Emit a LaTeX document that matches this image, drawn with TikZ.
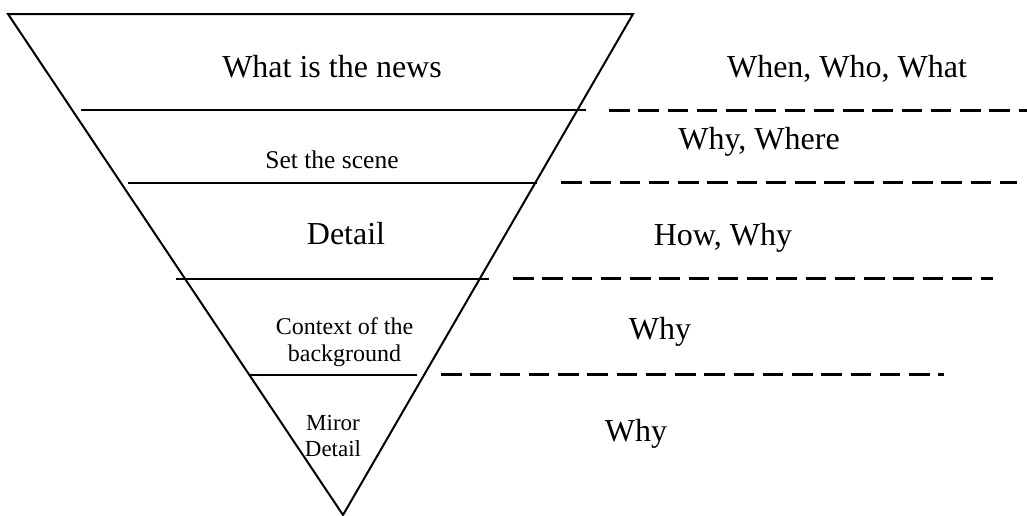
\documentclass[tikz,border=0pt]{standalone}
\usepackage{fontspec}
\setmainfont{Liberation Serif}
\begin{document}
\begin{tikzpicture}[x=1pt,y=-1pt,
  solidline/.style={line width=2pt},
  dashline/.style={line width=3pt, dash pattern=on 20.5pt off 8.75pt},
  bigtext/.style={inner sep=0pt, anchor=base, font=\fontsize{32}{36}\selectfont},
  smalltext/.style={inner sep=0pt, align=center, font=\fontsize{24}{27}\selectfont}]
\useasboundingbox (0,0) rectangle (1027,515);
% triangle
\coordinate (tl) at (8,14);
\coordinate (tr) at (633,14);
\coordinate (apex) at (343,515);
\draw[solidline, line join=miter] (apex) -- (tl) -- (tr) -- cycle;
% solid separators
\coordinate (s1a) at (81,110);  \coordinate (s1b) at (586,110);
\coordinate (s2a) at (128,183); \coordinate (s2b) at (537,183);
\coordinate (s3a) at (176,279); \coordinate (s3b) at (489,279);
\coordinate (s4a) at (249,375); \coordinate (s4b) at (417,375);
\draw[solidline] (s1a) -- (s1b);
\draw[solidline] (s2a) -- (s2b);
\draw[solidline] (s3a) -- (s3b);
\draw[solidline] (s4a) -- (s4b);
% dashed separators
\coordinate (d1a) at (609,110.5); \coordinate (d1b) at (1040,110.5);
\coordinate (d2a) at (561,182.5); \coordinate (d2b) at (1017,182.5);
\coordinate (d3a) at (513,278.5); \coordinate (d3b) at (993,278.5);
\coordinate (d4a) at (441,374.5); \coordinate (d4b) at (944,374.5);
\draw[dashline] (d1a) -- (d1b);
\draw[dashline] (d2a) -- (d2b);
\draw[dashline] (d3a) -- (d3b);
\draw[dashline] (d4a) -- (d4b);
% left labels
\node[bigtext] (news) at (332,77) {What is the news};
\node[bigtext, font=\fontsize{25.5}{30}\selectfont] (scene) at (332,168) {Set the scene};
\node[bigtext] (detail) at (346,244) {Detail};
\node[smalltext] (context) at (344.5,342) {Context of the\\background};
\node[smalltext, font=\fontsize{23}{26}\selectfont] (miror) at (333,436) {Miror\\Detail};
% right labels
\node[bigtext] (when) at (847,77) {When, Who, What};
\node[bigtext] (where) at (759,149) {Why, Where};
\node[bigtext] (how) at (723,245) {How, Why};
\node[bigtext] (why1) at (660,339) {Why};
\node[bigtext] (why2) at (636,441) {Why};
\end{tikzpicture}
\end{document}
